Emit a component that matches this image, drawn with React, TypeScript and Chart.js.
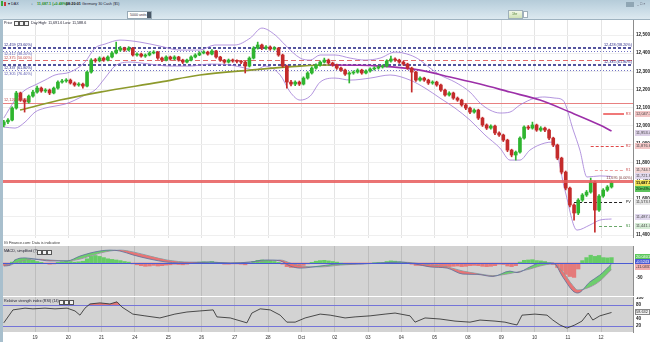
import React, { useEffect, useRef } from 'react';
import { Chart, registerables } from 'chart.js';

Chart.register(...registerables);
Chart.defaults.font.family = '"Liberation Sans", Arial, sans-serif';

// ---------------- data ----------------
const DAY_LABELS = ['19', '20', '21', '24', '25', '26', '27', '28', 'Oct', '02', '03', '04', '05', '08', '09', '10', '11', '12'];
const CANDLES_PER_DAY = 8;
const FIRST_OPEN = 12005;

const CLOSES = [
  12022, 12032, 12098, 12181, 12142, 12131, 12164, 12186,
  12208, 12192, 12197, 12181, 12208, 12241, 12247, 12252,
  12236, 12225, 12230, 12219, 12296, 12362, 12358, 12373,
  12362, 12379, 12401, 12417, 12428, 12417, 12428, 12390,
  12395, 12384, 12390, 12401, 12406, 12373, 12362, 12379,
  12368, 12379, 12362, 12351, 12362, 12379, 12390, 12401,
  12406, 12395, 12412, 12379, 12362, 12351, 12362, 12357,
  12355, 12351, 12329, 12373, 12428, 12445, 12428, 12434,
  12423, 12428, 12390, 12329, 12241, 12230, 12241, 12230,
  12263, 12291, 12318, 12335, 12351, 12362, 12346, 12335,
  12318, 12307, 12285, 12291, 12296, 12307, 12291, 12302,
  12313, 12318, 12324, 12329, 12357, 12368, 12362, 12351,
  12340, 12318, 12296, 12252, 12263, 12252, 12236, 12241,
  12225, 12197, 12170, 12181, 12153, 12142, 12115, 12098,
  12076, 12087, 12043, 12005, 11988, 11999, 11961, 11950,
  11922, 11867, 11840, 11856, 11933, 11994, 11988, 12005,
  11977, 11988, 11977, 11933, 11895, 11823, 11746, 11658,
  11565, 11521, 11592, 11620, 11636, 11691, 11537, 11614,
  11647, 11664, 11687,
];
const HIGHS = [
  12030, 12040, 12105, 12190, 12186, 12150, 12170, 12195,
  12219, 12214, 12205, 12203, 12214, 12248, 12256, 12260,
  12258, 12242, 12238, 12236, 12302, 12370, 12371, 12380,
  12379, 12386, 12409, 12461, 12437, 12433, 12436, 12432,
  12402, 12400, 12396, 12408, 12414, 12410, 12378, 12385,
  12384, 12386, 12383, 12367, 12368, 12385, 12397, 12408,
  12414, 12411, 12420, 12416, 12383, 12366, 12368, 12368,
  12364, 12361, 12356, 12380, 12436, 12461, 12450, 12442,
  12440, 12436, 12432, 12395, 12334, 12250, 12248, 12247,
  12270, 12298, 12325, 12342, 12358, 12373, 12368, 12351,
  12340, 12324, 12312, 12298, 12303, 12314, 12312, 12309,
  12320, 12325, 12331, 12336, 12364, 12384, 12375, 12367,
  12356, 12345, 12323, 12300, 12270, 12268, 12257, 12248,
  12246, 12230, 12202, 12188, 12186, 12159, 12147, 12121,
  12103, 12094, 12092, 12048, 12011, 12006, 12004, 11967,
  11955, 11927, 11872, 11862, 11940, 12001, 12002, 12021,
  12010, 11996, 11994, 11982, 11938, 11900, 11828, 11752,
  11664, 11572, 11600, 11628, 11645, 11713, 11696, 11622,
  11655, 11672, 11694,
];
const LOWS = [
  11995, 12012, 12028, 12092, 12135, 12076, 12125, 12158,
  12180, 12185, 12184, 12172, 12176, 12202, 12235, 12240,
  12230, 12218, 12218, 12208, 12214, 12290, 12350, 12352,
  12355, 12357, 12374, 12396, 12410, 12410, 12412, 12384,
  12383, 12378, 12377, 12385, 12396, 12366, 12354, 12357,
  12361, 12363, 12356, 12343, 12346, 12357, 12374, 12386,
  12396, 12389, 12390, 12372, 12355, 12344, 12346, 12350,
  12347, 12343, 12291, 12324, 12368, 12422, 12420, 12421,
  12416, 12417, 12383, 12322, 12208, 12220, 12222, 12222,
  12225, 12257, 12285, 12312, 12329, 12346, 12340, 12328,
  12311, 12300, 12278, 12236, 12284, 12290, 12284, 12286,
  12296, 12307, 12312, 12318, 12324, 12351, 12355, 12344,
  12333, 12311, 12186, 12245, 12246, 12245, 12228, 12229,
  12218, 12190, 12163, 12164, 12146, 12135, 12108, 12090,
  12068, 12070, 12035, 11997, 11980, 11982, 11952, 11942,
  11914, 11858, 11830, 11812, 11850, 11927, 11980, 11982,
  11970, 11970, 11969, 11925, 11886, 11814, 11736, 11648,
  11554, 11482, 11512, 11585, 11612, 11630, 11416, 11530,
  11607, 11640, 11658,
];

// Bollinger bands and moving average, read at candle positions
const BB_UPPER_AT = [0, 2.7, 5.1, 7.5, 9.9, 12.3, 15.9, 19.5, 21.9, 24.3, 27.9, 32.7, 37.5, 42.3, 47.1, 50.7, 55.5, 59.2, 62, 65.2, 67.6, 71.2, 73.6, 76, 79.6, 83.2, 86.8, 90.4, 94, 97.6, 100, 102.4, 104.8, 108.4, 112, 114.4, 116.8, 119.2, 121.6, 124, 127.6, 130, 132.4, 134.3, 136.8, 138.4, 140.1, 143.2, 146];
const BB_UPPER = [12043, 12142, 12197, 12225, 12252, 12280, 12296, 12351, 12428, 12450, 12472, 12461, 12439, 12417, 12417, 12445, 12445, 12483, 12538, 12500, 12445, 12373, 12362, 12390, 12390, 12373, 12362, 12373, 12406, 12390, 12362, 12318, 12280, 12241, 12186, 12126, 12087, 12071, 12076, 12115, 12153, 12159, 12153, 12142, 11977, 11867, 11719, 11725, 11722];
const BB_LOWER_AT = [0, 2.7, 5.1, 7.5, 9.9, 12.3, 14.7, 17.1, 19.5, 21.9, 24.3, 26.7, 30.3, 35.1, 39.9, 44.7, 49.5, 54.4, 58, 60.4, 62.8, 66.4, 68.8, 71.2, 73.6, 76, 79.6, 83.2, 88, 92.8, 97.6, 101.2, 104.8, 108.4, 112, 115.6, 119.2, 121.6, 124, 126.4, 130, 131.9, 134.8, 137.7, 140.8, 143.2, 146];
const BB_LOWER = [11994, 11988, 12021, 12076, 12098, 12109, 12120, 12142, 12170, 12197, 12263, 12329, 12351, 12340, 12329, 12329, 12340, 12335, 12318, 12307, 12329, 12280, 12186, 12142, 12164, 12241, 12263, 12252, 12263, 12280, 12252, 12208, 12153, 12098, 12032, 11950, 11878, 11812, 11812, 11867, 11906, 11911, 11647, 11427, 11455, 11482, 11488];
const MA_AT = [3.9, 13.5, 23.1, 37.5, 47.1, 59.2, 71.2, 78.4, 90.4, 100, 107.2, 114.4, 121.6, 128.8, 136, 143.2, 146];
const MA = [12087, 12142, 12186, 12241, 12280, 12307, 12329, 12335, 12329, 12307, 12269, 12230, 12186, 12142, 12076, 12005, 11972];

const PRICE_TICKS = [11400, 11500, 11600, 11700, 11800, 11900, 12000, 12100, 12200, 12300, 12400, 12500];

const FIB_LEVELS = [12428, 12412, 12360, 12335, 12305, 12126];
const FIB_LEFT_TEXT = ['12,459 (23.60%)', '12,412 (38.20%)', '12,375 (50.00%)', '12,337 (61.80%)', '12,305 (76.40%)', '12,126 (0.00%)'];
const FIB_RIGHT_TEXT = ['12,428 (38.20%)', '', '', '12,335 (61.80%)', '', ''];
const SUPPORT_LEVEL = 11699;
const SUPPORT_TEXT = '11,695 (0.00%)';
const PIVOT_LEVELS = [12065, 11891, 11757, 11583, 11450];
const PIVOT_NAMES = ['R3', 'R2', 'R1', 'PV', 'S1'];
const PIVOT_FROM = [144, 141, 142, 137, 143];

const PRICE_TAG_AT = [12065, 11961, 11891, 11757, 11722, 11686, 11653, 11579, 11499, 11447];
const PRICE_TAG_TEXT = ['12,047.7', '11,953.4', '11,876.6', '11,744.5', '11,721.8', '11,687.1', '20m49s', '11,573.9', '11,487.7', '11,441.7'];

const MACD_AT = [0, 1.5, 2.7, 5.1, 7.5, 11.1, 15.2, 18.3, 20.7, 23.1, 25.5, 27.9, 31, 35.1, 39.2, 44.7, 49.5, 54.4, 59.2, 62.8, 66.4, 68.8, 71.2, 76, 80.8, 85.6, 90.4, 95.2, 98.8, 102.4, 106.5, 110.3, 113.7, 117.5, 121.6, 123.3, 126.4, 128.8, 132, 134.3, 136.7, 137.9, 140.8, 143.2, 146];
const MACD_LINE = [-10, -7, 10, 17, 13, 7, 7, 23, 33, 40, 43, 40, 27, 13, 3, 0, 3, 0, 3, 10, 7, -10, -17, -10, -3, -3, 0, 3, -3, -13, -17, -37, -38, -45, -27, -32, -13, 0, 0, -47, -93, -100, -63, -40, -3];
const MACD_SIGNAL = [-3, -7, 0, 10, 13, 10, 7, 13, 23, 33, 40, 43, 37, 23, 10, 3, 3, 0, 3, 7, 10, 0, -10, -13, -7, -3, 0, 3, 0, -7, -13, -27, -35, -42, -35, -30, -20, -10, -3, -30, -75, -90, -80, -60, -22];
const MACD_HIST = [
  -8, -6, 3, 10, 14, 15, 12, 9,
  5, 2, -2, -4, -3, 2, 4, 6,
  5, 3, 4, 6, 14, 22, 25, 22,
  18, 14, 12, 10, 8, 5, 3, -3,
  -6, -9, -11, -10, -8, -10, -9, -7,
  -6, -4, -5, -6, -4, -2, 1, 3,
  4, 3, 5, 2, -2, -4, -4, -3,
  -3, -4, -6, -2, 5, 9, 10, 9,
  7, 5, 2, -4, -12, -15, -14, -12,
  -8, -3, 2, 6, 8, 9, 7, 5,
  3, 0, -3, -4, -3, -2, -3, -2,
  -1, 1, 2, 2, 5, 7, 6, 4,
  2, -1, -4, -8, -8, -9, -10, -10,
  -11, -13, -13, -12, -11, -10, -12, -11,
  -9, -8, -9, -11, -12, -11, -9, -4,
  -5, -10, -12, -9, 3, 9, 10, 11,
  8, 7, 5, 1, -5, -15, -27, -38,
  -45, -48, -20, 8, 18, 26, 22, 25,
  18, 17, 18,
];
const MACD_TICKS = [-50];
const MACD_TAG_AT = [21, 4.5, -12];
const MACD_TAG_TEXT = ['20.0401', '-0.5243', '-11.0331'];

const RSI_AT = [0, 2.2, 5.1, 7, 9.9, 12.3, 15.2, 17.1, 18.3, 19.5, 20.7, 23.1, 25.5, 27.2, 28.4, 31, 33.9, 37.5, 41.1, 44, 47.1, 50.3, 51.2, 54.4, 58.4, 59.6, 61.6, 64, 66.4, 68, 70, 72.4, 76, 78.4, 82, 84.4, 88, 91.6, 94, 97.6, 98.8, 101.2, 104.8, 108.4, 112, 114.4, 118, 120.4, 122.1, 123.3, 124.5, 127.6, 130.5, 131.9, 133.6, 135.3, 137.2, 138.9, 140.4, 141.5, 143.2, 146];
const RSI = [29, 66, 71, 69, 71, 69, 71, 63, 51, 71, 83, 86, 83, 89, 74, 54, 49, 43, 54, 60, 63, 66, 46, 43, 29, 57, 69, 66, 51, 31, 31, 43, 54, 51, 43, 46, 49, 54, 57, 49, 31, 43, 40, 34, 31, 37, 34, 31, 26, 23, 51, 54, 51, 37, 23, 14, 23, 34, 57, 37, 49, 58.6];
const RSI_TICKS = [20, 40, 60, 80, 100];
const RSI_LEVELS = [80, 20];
const RSI_TAG_AT = [58.6];
const RSI_TAG_TEXT = ['58.632'];

// ---------------- styles ----------------
const GREEN = '#2fb52f';
const RED = '#c42b2b';
const BAND = '#a07ad6';
const OLIVE = '#8d9a2c';
const PURPLE = '#9c2fa8';
const X_MIN = -0.19;
const X_MAX = 151.16;
const FONT = '"Liberation Sans", Arial, sans-serif';
const AXIS_FONT = 4.6;
const NOTE_FONT = 3.8;
const TAG_FONT = 3.9;

const FIB_STYLE = [
  { color: '#1c1c80', width: 1.5, dash: [3, 2], text: '#1c1c80', pos: 'above' },
  { color: '#7474c4', width: 1, dash: [1, 2], text: '#5a5ab0', pos: 'below' },
  { color: '#e06a6a', width: 1, dash: [5, 3], text: '#c04848', pos: 'above' },
  { color: '#1c1c80', width: 1.5, dash: [3, 2], text: '#1c1c80', pos: 'below' },
  { color: '#7474c4', width: 1, dash: [1, 2], text: '#5a5ab0', pos: 'below' },
  { color: '#e88080', width: 1, dash: [], text: '#c04848', pos: 'above' },
];
const PIVOT_STYLE = [
  { color: '#f07878', width: 2, dash: [], text: '#d04040' },
  { color: '#e04848', width: 1, dash: [3, 2], text: '#d04040' },
  { color: '#f0a0a0', width: 1, dash: [3, 2], text: '#d06060' },
  { color: '#222222', width: 1, dash: [3, 2], text: '#222222' },
  { color: '#6aa86a', width: 1, dash: [3, 2], text: '#3a8a3a' },
];
const PRICE_TAG_STYLE = [
  { bg: '#f3c6c6', fg: '#444' }, { bg: '#dcd0e6', fg: '#444' }, { bg: '#f3c6c6', fg: '#444' },
  { bg: '#f3d6d6', fg: '#444' }, { bg: '#e1d9ee', fg: '#444' }, { bg: '#f2e25a', fg: '#000' },
  { bg: '#5cc25c', fg: '#0d2d0d' }, { bg: '#e6e6e6', fg: '#333' }, { bg: '#e1d9ee', fg: '#444' },
  { bg: '#d6ecd6', fg: '#444' },
];
const MACD_TAG_STYLE = [{ bg: '#5cc85c', fg: '#fff' }, { bg: '#4a5bd4', fg: '#fff' }, { bg: '#f0b0b0', fg: '#333' }];

// ---------------- helpers ----------------
const pts = (xs: number[], ys: number[]) => xs.map((x, k) => ({ x, y: ys[k] }));
const dayTicks = DAY_LABELS.map((_, k) => (k + 1) * CANDLES_PER_DAY - 0.5);

function xScale(showLabels: boolean, gridColor: string, height: number): any {
  return {
    type: 'linear',
    min: X_MIN,
    max: X_MAX,
    offset: false,
    afterBuildTicks: (s: any) => { s.ticks = dayTicks.map((v) => ({ value: v })); },
    afterFit: (s: any) => { s.height = height; s.paddingLeft = 0; s.paddingRight = 0; },
    grid: { color: gridColor, drawTicks: false, offset: false },
    border: { display: false },
    ticks: {
      display: showLabels, autoSkip: false, maxRotation: 0, minRotation: 0, padding: 3,
      font: { size: AXIS_FONT }, color: '#333',
      callback: (_v: any, i: number) => DAY_LABELS[i],
    },
  };
}

function yScale(min: number, max: number, ticks: number[], fmt: (v: number) => string, gridColor: string | null): any {
  return {
    type: 'linear',
    position: 'right',
    min,
    max,
    afterBuildTicks: (s: any) => { s.ticks = ticks.map((v) => ({ value: v })); },
    afterFit: (s: any) => { s.width = 17; s.paddingTop = 0; s.paddingBottom = 0; },
    grid: { display: !!gridColor, color: gridColor || 'transparent', drawTicks: false },
    border: { display: true, color: '#8c8c8c' },
    ticks: { padding: 3, font: { size: AXIS_FONT, weight: 'bold' }, color: '#222', callback: (v: any) => fmt(Number(v)) },
  };
}

type Level = { v: number; color: string; width: number; dash: number[]; from?: number; to?: number; top?: boolean };
type Note = { x: 'L' | 'R' | number; v: number; text: string; color: string; pos: string };
type Tag = { v: number; text: string; bg: string; fg: string; border?: string; bold?: boolean };

function overlay(bg: string, levels: Level[], notes: Note[], tags: Tag[]): any {
  const drawLevels = (chart: any, top: boolean) => {
    const { ctx, chartArea: ca, scales } = chart;
    ctx.save();
    ctx.beginPath();
    ctx.rect(ca.left, ca.top, ca.right - ca.left, ca.bottom - ca.top);
    ctx.clip();
    for (const l of levels) {
      if (!!l.top !== top) continue;
      const y = scales.y.getPixelForValue(l.v);
      const x0 = l.from == null ? ca.left : scales.x.getPixelForValue(l.from);
      const x1 = l.to == null ? ca.right : scales.x.getPixelForValue(l.to);
      const yy = Math.round(l.width) % 2 === 1 ? Math.round(y) + 0.5 : Math.round(y);
      ctx.strokeStyle = l.color;
      ctx.lineWidth = l.width;
      ctx.setLineDash(l.dash);
      ctx.beginPath();
      ctx.moveTo(x0, yy);
      ctx.lineTo(x1, yy);
      ctx.stroke();
    }
    ctx.restore();
  };
  return {
    id: 'overlay',
    beforeDraw(chart: any) {
      const { ctx, chartArea: ca } = chart;
      ctx.save();
      ctx.fillStyle = bg;
      ctx.fillRect(ca.left, ca.top, ca.right - ca.left, ca.bottom - ca.top);
      ctx.restore();
    },
    beforeDatasetsDraw(chart: any) { drawLevels(chart, false); },
    afterDatasetsDraw(chart: any) {
      drawLevels(chart, true);
      const { ctx, chartArea: ca, scales } = chart;
      ctx.save();
      ctx.font = `${NOTE_FONT}px ${FONT}`;
      for (const n of notes) {
        const y = scales.y.getPixelForValue(n.v);
        let x: number;
        let align: CanvasTextAlign = 'left';
        if (n.x === 'L') { x = ca.left + 1; }
        else if (n.x === 'R') { x = ca.right - 1; align = 'right'; }
        else { x = scales.x.getPixelForValue(n.x); }
        ctx.textAlign = align;
        ctx.fillStyle = n.color;
        ctx.textBaseline = n.pos === 'below' ? 'top' : n.pos === 'mid' ? 'middle' : 'bottom';
        const yy = n.pos === 'below' ? y + 1.2 : n.pos === 'mid' ? y : y - 1;
        ctx.fillText(n.text, x, yy);
      }
      ctx.restore();
    },
    afterDraw(chart: any) {
      const { ctx, chartArea: ca, scales } = chart;
      ctx.save();
      for (const t of tags) {
        const y = Math.round(scales.y.getPixelForValue(t.v));
        const x0 = ca.right + 2;
        ctx.fillStyle = t.bg;
        ctx.fillRect(x0, y - 3, chart.width - x0, 6);
        if (t.border) {
          ctx.strokeStyle = t.border;
          ctx.lineWidth = 1;
          ctx.strokeRect(x0 + 0.5, y - 2.5, chart.width - x0 - 1, 5);
        }
        ctx.fillStyle = t.fg;
        ctx.font = `${t.bold ? 'bold ' : ''}${TAG_FONT}px ${FONT}`;
        ctx.textAlign = 'left';
        ctx.textBaseline = 'middle';
        ctx.fillText(t.text, x0 + 1, y + 0.3);
      }
      ctx.restore();
    },
  };
}

const fmtPrice = (v: number) => v.toLocaleString('en-US');
const fmtPlain = (v: number) => String(v);

function mainConfig(): any {
  const opens = CLOSES.map((_, i) => (i === 0 ? FIRST_OPEN : CLOSES[i - 1]));
  const colors = CLOSES.map((c, i) => (c >= opens[i] ? GREEN : RED));
  const levels: Level[] = [
    ...FIB_LEVELS.map((v, k) => ({ v, color: FIB_STYLE[k].color, width: FIB_STYLE[k].width, dash: FIB_STYLE[k].dash })),
    ...PIVOT_LEVELS.map((v, k) => ({ v, color: PIVOT_STYLE[k].color, width: PIVOT_STYLE[k].width, dash: PIVOT_STYLE[k].dash, from: PIVOT_FROM[k], to: 149 })),
    { v: SUPPORT_LEVEL, color: 'rgba(232,92,92,0.85)', width: 3, dash: [], top: true },
  ];
  const notes: Note[] = [
    ...FIB_LEVELS.map((v, k) => ({ x: 'L' as const, v, text: FIB_LEFT_TEXT[k], color: FIB_STYLE[k].text, pos: FIB_STYLE[k].pos })),
    ...FIB_LEVELS.map((v, k) => ({ x: 'R' as const, v, text: FIB_RIGHT_TEXT[k], color: FIB_STYLE[k].text, pos: 'above' })).filter((n) => n.text),
    ...PIVOT_LEVELS.map((v, k) => ({ x: 149.4, v, text: PIVOT_NAMES[k], color: PIVOT_STYLE[k].text, pos: 'mid' })),
    { x: 'R', v: SUPPORT_LEVEL, text: SUPPORT_TEXT, color: '#7a3a3a', pos: 'above' },
  ];
  const tags: Tag[] = PRICE_TAG_AT.map((v, k) => ({ v, text: PRICE_TAG_TEXT[k], bg: PRICE_TAG_STYLE[k].bg, fg: PRICE_TAG_STYLE[k].fg, bold: k === 5 }));
  return {
    type: 'bar',
    data: {
      datasets: [
        { type: 'line', data: pts(BB_UPPER_AT, BB_UPPER), borderColor: BAND, borderWidth: 0.8, pointRadius: 0, cubicInterpolationMode: 'monotone', order: 3 },
        { type: 'line', data: pts(BB_LOWER_AT, BB_LOWER), borderColor: BAND, borderWidth: 0.8, pointRadius: 0, cubicInterpolationMode: 'monotone', order: 3 },
        {
          type: 'line', data: pts(MA_AT, MA), borderColor: PURPLE, borderWidth: 1.6, pointRadius: 0, cubicInterpolationMode: 'monotone', order: 2,
          segment: { borderColor: (c: any) => (c.p1.parsed.y >= c.p0.parsed.y ? OLIVE : PURPLE) },
        },
        { type: 'bar', data: CLOSES.map((_, i) => ({ x: i, y: [LOWS[i], HIGHS[i]] })), backgroundColor: colors, barThickness: 1, grouped: false, order: 1 },
        { type: 'bar', data: CLOSES.map((c, i) => ({ x: i, y: [opens[i], c] })), backgroundColor: colors, barThickness: 3, grouped: false, minBarLength: 1, order: 0 },
      ],
    },
    options: {
      animation: false, responsive: false, maintainAspectRatio: false, devicePixelRatio: 1, events: [],
      layout: { padding: { left: 3, right: 0, top: 0, bottom: 0 } },
      plugins: { legend: { display: false }, tooltip: { enabled: false } },
      scales: { x: xScale(false, '#e4e4e4', 0), y: yScale(11383.5, 12588, PRICE_TICKS, fmtPrice, '#efefef') },
    },
    plugins: [overlay('#ffffff', levels, notes, tags)],
  };
}

function macdConfig(): any {
  const tags: Tag[] = MACD_TAG_AT.map((v, k) => ({ v, text: MACD_TAG_TEXT[k], bg: MACD_TAG_STYLE[k].bg, fg: MACD_TAG_STYLE[k].fg }));
  return {
    type: 'bar',
    data: {
      datasets: [
        {
          type: 'line', data: pts(MACD_AT, MACD_LINE), borderColor: '#5b6f9a', borderWidth: 0.8, pointRadius: 0, cubicInterpolationMode: 'monotone', order: 1,
          fill: { target: '+1', above: 'rgba(104,204,104,0.95)', below: 'rgba(232,112,112,0.95)' },
        },
        { type: 'line', data: pts(MACD_AT, MACD_SIGNAL), borderColor: '#7d8fb2', borderWidth: 0.8, pointRadius: 0, cubicInterpolationMode: 'monotone', fill: false, order: 1 },
        {
          type: 'bar', data: MACD_HIST.map((v, i) => ({ x: i, y: v })), grouped: false, barThickness: 3.6, order: 2,
          backgroundColor: MACD_HIST.map((v) => (v >= 0 ? '#66cc66' : '#e57a7a')),
        },
      ],
    },
    options: {
      animation: false, responsive: false, maintainAspectRatio: false, devicePixelRatio: 1, events: [],
      layout: { padding: { left: 3, right: 0, top: 0, bottom: 0 } },
      plugins: { legend: { display: false }, tooltip: { enabled: false } },
      scales: { x: xScale(false, '#bdbdbd', 0), y: yScale(-110, 56.67, MACD_TICKS, fmtPlain, null) },
    },
    plugins: [overlay('#d3d3d3', [{ v: 0, color: '#4a5bd4', width: 1, dash: [], top: true }], [], tags)],
  };
}

function rsiConfig(): any {
  const tags: Tag[] = RSI_TAG_AT.map((v, k) => ({ v, text: RSI_TAG_TEXT[k], bg: '#f4f4f4', fg: '#222', border: '#888' }));
  return {
    type: 'line',
    data: {
      datasets: [
        {
          data: pts(RSI_AT, RSI), borderColor: '#262626', borderWidth: 0.8, pointRadius: 0, tension: 0,
          fill: { target: { value: 80 }, above: 'rgba(226,96,96,0.8)', below: 'rgba(0,0,0,0)' },
        },
      ],
    },
    options: {
      animation: false, responsive: false, maintainAspectRatio: false, devicePixelRatio: 1, events: [],
      layout: { padding: { left: 3, right: 0, top: 0, bottom: 0 } },
      plugins: { legend: { display: false }, tooltip: { enabled: false } },
      scales: { x: xScale(true, '#bdbdbd', 10), y: yScale(2.86, 102.86, RSI_TICKS, fmtPlain, null) },
    },
    plugins: [overlay('#d3d3d3', RSI_LEVELS.map((v) => ({ v, color: '#7474d8', width: 1, dash: [] })), [], tags)],
  };
}

// ---------------- component ----------------
const txt: React.CSSProperties = { position: 'absolute', fontSize: 3.7, lineHeight: '5px', whiteSpace: 'nowrap', color: '#223', zIndex: 3 };
const icon = (left: number, top: number): React.CSSProperties => ({
  position: 'absolute', left, top, width: 3, height: 3, border: '0.6px solid #555', background: '#f4f4f4', zIndex: 3,
});

export default function App() {
  const mainRef = useRef<HTMLCanvasElement>(null);
  const macdRef = useRef<HTMLCanvasElement>(null);
  const rsiRef = useRef<HTMLCanvasElement>(null);

  useEffect(() => {
    document.body.style.margin = '0';
    const charts = [
      new Chart(mainRef.current as HTMLCanvasElement, mainConfig()),
      new Chart(macdRef.current as HTMLCanvasElement, macdConfig()),
      new Chart(rsiRef.current as HTMLCanvasElement, rsiConfig()),
    ];
    return () => charts.forEach((c) => c.destroy());
  }, []);

  const cv = (top: number, height: number): React.CSSProperties => ({ position: 'absolute', left: 0, top, width: 650, height, display: 'block' });

  return (
    <div style={{ position: 'absolute', left: 0, top: 0, width: 650, height: 342, overflow: 'hidden', background: '#ffffff', fontFamily: FONT }}>
      {/* title / toolbar */}
      <div style={{ position: 'absolute', left: 0, top: 0, width: 650, height: 19, background: 'linear-gradient(#b5ccd9, #c6d9e4 45%, #dde9f0)' }} />
      <div style={{ position: 'absolute', left: 1, top: 1, width: 2, height: 5, background: '#3aa83a', zIndex: 3 }} />
      <div style={{ position: 'absolute', left: 4, top: 2, width: 2, height: 4, background: '#c83a3a', zIndex: 3 }} />
      <div style={{ ...txt, left: 8, top: 1.5 }}>▾ DAX</div>
      <div style={{ ...txt, left: 31, top: 1.5, color: '#3a5a7a' }}>↕</div>
      <div style={{ ...txt, left: 37, top: 1.5, color: '#1f8f1f', fontWeight: 'bold' }}>11,687.1 (+0.48%)</div>
      <div style={{ ...txt, left: 66, top: 1.5, color: '#111', fontWeight: 'bold' }}>08:20:01</div>
      <div style={{ ...txt, left: 82, top: 1.5 }}>Germany 30 Cash ($5)</div>
      <div style={{ position: 'absolute', left: 127, top: 11, width: 23, height: 6, background: '#fff', border: '1px solid #98aab6', zIndex: 3 }}>
        <div style={{ ...txt, left: 2, top: 0.5, fontSize: 3.6, color: '#333' }}>5000 units</div>
        <div style={{ position: 'absolute', right: 0, top: 0, width: 4, height: 6, background: '#4a5866' }} />
      </div>
      <div style={{ position: 'absolute', left: 508, top: 10, width: 13, height: 7, background: 'linear-gradient(#f2f7e8, #cfe2b6)', border: '1px solid #9fb0ba', zIndex: 3 }}>
        <div style={{ ...txt, left: 3, top: 1, fontSize: 3.6, color: '#4a7a2a' }}>1hr</div>
      </div>
      <div style={{ position: 'absolute', left: 523, top: 11, width: 3, height: 5, background: '#fff', border: '1px solid #9fb0ba', zIndex: 3 }} />
      <div style={{ position: 'absolute', left: 626, top: 2, width: 8, height: 5, background: '#8fa6b4', zIndex: 3 }} />
      <div style={{ ...txt, left: 637, top: 1.5, color: '#556' }}>_ □ ×</div>

      {/* frame */}
      <div style={{ position: 'absolute', left: 0, top: 19, width: 650, height: 1, background: '#9fb3c0', zIndex: 2 }} />
      <div style={{ position: 'absolute', left: 0, top: 19, width: 3, height: 323, background: '#a8bfcd', zIndex: 2 }} />

      <canvas ref={mainRef} width={650} height={219} style={cv(19, 219)} />
      <canvas ref={macdRef} width={650} height={50} style={cv(246, 50)} />
      <canvas ref={rsiRef} width={650} height={45} style={cv(297, 45)} />

      {/* panel headers */}
      <div style={{ ...txt, left: 4, top: 20.5 }}>Price</div>
      <div style={icon(14, 21)} />
      <div style={icon(19, 21)} />
      <div style={icon(24, 21)} />
      <div style={{ ...txt, left: 31, top: 20.5 }}>Day High: 11,691.6  Low: 11,588.6</div>
      <div style={{ ...txt, left: 4, top: 241, color: '#333' }}>IG Finance.com: Data is indicative</div>
      <div style={{ ...txt, left: 4, top: 249 }}>MACD, simplified (?)</div>
      <div style={icon(37, 249.5)} />
      <div style={icon(42, 249.5)} />
      <div style={icon(47, 249.5)} />
      <div style={{ ...txt, left: 4, top: 299 }}>Relative strength index (RSI) (14)</div>
      <div style={icon(59, 299.5)} />
      <div style={icon(64, 299.5)} />
      <div style={icon(69, 299.5)} />
    </div>
  );
}
